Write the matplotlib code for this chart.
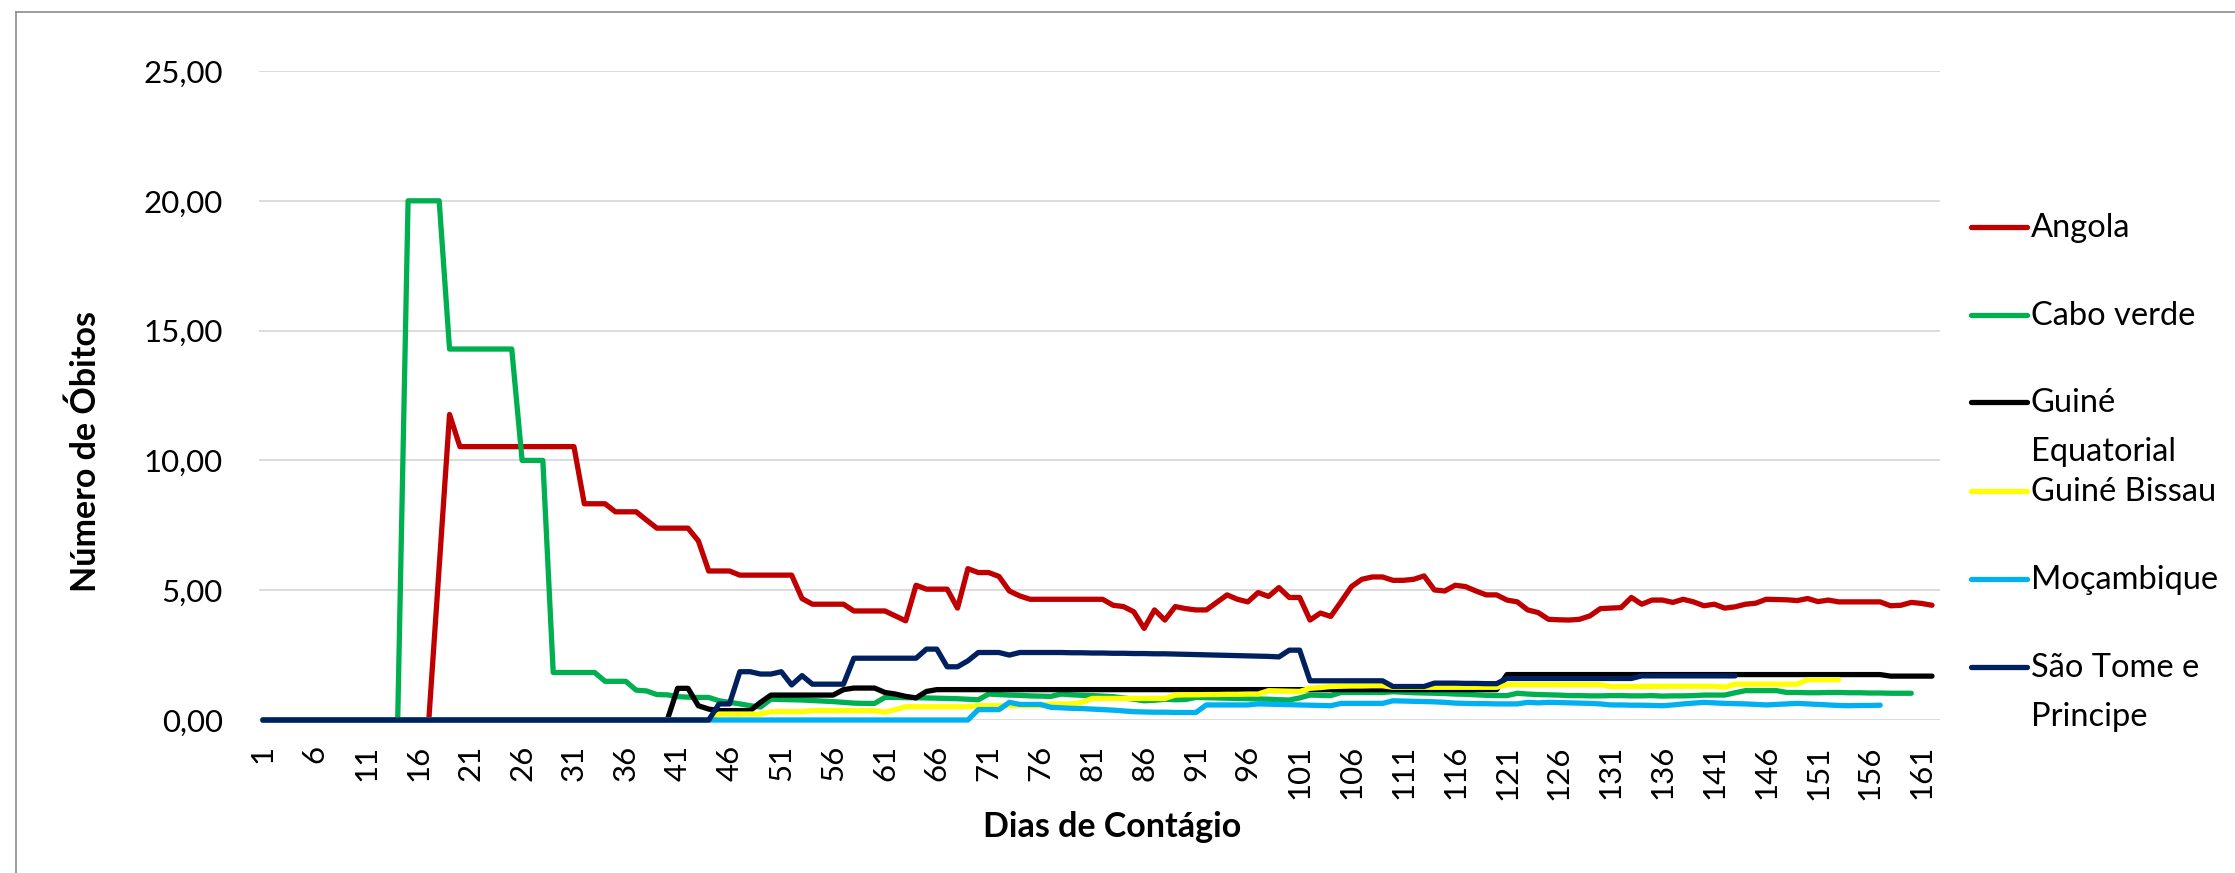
import matplotlib
matplotlib.use("Agg")
import matplotlib.pyplot as plt
from matplotlib.lines import Line2D

plt.rcParams['font.family'] = ['Lato', 'DejaVu Sans']

# ---------------- data ----------------
days = list(range(1, 163))
tick_days = list(range(1, 162, 5))
y_ticks = [0, 5, 10, 15, 20, 25]
y_tick_labels = ['0,00', '5,00', '10,00', '15,00', '20,00', '25,00']

series_names = ['Angola', 'Cabo verde', 'Guiné\nEquatorial', 'Guiné Bissau',
                'Moçambique', 'São Tome e\nPrincipe']
series_colors = ['#C00000', '#00B050', '#000000', '#FFFF00', '#00B0F0', '#002060']

angola = ([0]*17 + [5.9, 11.77] + [10.53]*12 + [8.33]*3 + [8.02]*3 + [7.7] + [7.39]*4
          + [6.9] + [5.74]*3 + [5.58]*6 + [4.68] + [4.46]*4 + [4.2]*4 + [4.01, 3.82, 5.19]
          + [5.04]*3 + [4.31, 5.83, 5.68, 5.68, 5.53, 4.97, 4.78] + [4.65]*8
          + [4.42, 4.37, 4.17, 3.53, 4.24, 3.85, 4.37, 4.29, 4.24, 4.24, 4.53, 4.82, 4.65,
             4.55, 4.91, 4.76, 5.10, 4.72, 4.72, 3.85, 4.12, 3.99, 4.56, 5.14, 5.42, 5.51,
             5.51, 5.38, 5.38, 5.42, 5.55, 5.01, 4.97, 5.19, 5.14, 4.97, 4.82, 4.82, 4.62,
             4.55, 4.24, 4.14, 3.88, 3.86, 3.85, 3.88, 4.01, 4.29, 4.31, 4.33, 4.72, 4.46,
             4.62, 4.62, 4.53, 4.65, 4.55, 4.40, 4.46, 4.31, 4.36, 4.46, 4.50, 4.65, 4.64,
             4.63, 4.60, 4.68, 4.56, 4.62, 4.55, 4.55, 4.55, 4.55, 4.55, 4.40, 4.42, 4.53,
             4.49, 4.42])

cabo_verde = ([0]*14 + [20]*4 + [14.29]*7 + [10]*3 + [1.83]*5 + [1.49]*3
              + [1.15, 1.12, 0.98, 0.97, 0.90, 0.88, 0.87, 0.87, 0.74, 0.68, 0.62, 0.55, 0.50,
                 0.80, 0.79, 0.78, 0.77, 0.75, 0.73, 0.71, 0.68, 0.65, 0.64, 0.64, 0.87, 0.87,
                 0.86, 0.86, 0.85, 0.84, 0.83, 0.82, 0.80, 0.78, 1.00, 0.98, 0.96, 0.95, 0.93,
                 0.92, 0.91, 1.00, 0.97, 0.95, 0.94, 0.92, 0.90, 0.85, 0.80, 0.74, 0.76, 0.80,
                 0.78, 0.79, 0.87, 0.86, 0.85, 0.84, 0.83, 0.82, 0.81, 0.80, 0.78, 0.77, 0.85,
                 0.96, 0.95, 0.94]
              + [1.06]*5
              + [1.09, 1.07, 1.05, 1.04, 1.03, 1.02, 1.00, 0.99, 0.97, 0.95, 0.94, 0.94, 1.03,
                 1.00, 0.98, 0.97, 0.96, 0.94, 0.94, 0.93, 0.93, 0.94, 0.94, 0.93, 0.93, 0.94,
                 0.92, 0.93, 0.93, 0.94, 0.96, 0.96, 0.96, 1.05, 1.13, 1.13, 1.13, 1.13, 1.06,
                 1.06, 1.05, 1.05, 1.06, 1.06, 1.05, 1.05, 1.04, 1.04, 1.03, 1.03, 1.03])

guine_equatorial = ([0]*40 + [1.22]*2 + [0.55, 0.42] + [0.36]*4 + [0.68] + [0.96]*7 + [1.17]
                    + [1.23]*3 + [1.06, 1.00, 0.91, 0.85, 1.10] + [1.17]*55 + [1.75]*37
                    + [1.69]*5)

guine_bissau = ([0]*44 + [0.23]*5 + [0.32]*4 + [0.36]*7 + [0.30, 0.40] + [0.51]*7 + [0.55]*7
                + [0.62]*3 + [0.68] + [0.83]*8
                + [0.96, 0.97, 0.97, 0.98, 0.98, 0.99, 0.99, 1.00, 1.00, 1.13, 1.12, 1.11,
                   1.10, 1.22, 1.25, 1.29, 1.30, 1.31, 1.31, 1.32, 1.32]
                + [1.26]*11 + [1.36]*10 + [1.29]*5 + [1.30]*6 + [1.26] + [1.38]*7 + [1.55]*4)

mocambique = ([0]*69 + [0.40]*3 + [0.68] + [0.60]*3
              + [0.49, 0.47, 0.45, 0.44, 0.42, 0.40, 0.38, 0.35, 0.32, 0.31, 0.30, 0.30, 0.29,
                 0.29, 0.29]
              + [0.58]*5 + [0.62, 0.61, 0.60, 0.59, 0.58, 0.57, 0.56, 0.55] + [0.64]*5
              + [0.74, 0.73, 0.72, 0.71, 0.70, 0.68, 0.65, 0.64, 0.63, 0.63, 0.62, 0.62, 0.62,
                 0.68, 0.66, 0.68, 0.67, 0.66, 0.65, 0.64, 0.62, 0.58, 0.58, 0.57, 0.57, 0.56,
                 0.55, 0.58, 0.62, 0.65, 0.68, 0.66, 0.64, 0.63, 0.62, 0.60, 0.58, 0.60, 0.62,
                 0.64, 0.62, 0.60, 0.58, 0.56, 0.55, 0.56, 0.56, 0.57])

sao_tome = ([0]*44 + [0.62]*2 + [1.86]*2 + [1.77]*2 + [1.86, 1.35, 1.71] + [1.38]*4
            + [2.38]*7 + [2.73]*2 + [2.05]*2 + [2.28] + [2.60]*3 + [2.50]
            + [2.60, 2.60, 2.60, 2.60, 2.60, 2.59, 2.59, 2.58, 2.58, 2.57, 2.57, 2.56, 2.56,
               2.55, 2.55, 2.54, 2.53, 2.52, 2.51, 2.50, 2.49, 2.48, 2.47, 2.46, 2.45, 2.43]
            + [2.69]*2 + [1.51]*8 + [1.29]*4 + [1.42, 1.42, 1.42, 1.41, 1.41, 1.40, 1.40]
            + [1.60]*13 + [1.70]*10)

all_series = [angola, cabo_verde, guine_equatorial, guine_bissau, mocambique, sao_tome]

# ---------------- figure ----------------
W, H = 2235, 873
fig = plt.figure(figsize=(W / 100, H / 100), dpi=100)
fig.patch.set_facecolor('white')

ax_l, ax_r, ax_t, ax_b = 259, 1940, 71, 720
ax = fig.add_axes([ax_l / W, 1 - ax_b / H, (ax_r - ax_l) / W, (ax_b - ax_t) / H])

for name, col, vals in zip(series_names, series_colors, all_series):
    ax.plot(days[:len(vals)], vals, color=col, lw=3.8, solid_joinstyle='round',
            solid_capstyle='round', clip_on=False, zorder=3)

ax.set_xlim(0.62, 162.77)
ax.set_ylim(0, 25)
ax.set_yticks(y_ticks)
ax.set_yticklabels(y_tick_labels)
ax.set_xticks(tick_days)
ax.set_xticklabels([str(d) for d in tick_days], rotation=90, va='top', ha='center')
ax.tick_params(axis='both', length=0, labelsize=22.5, colors='#000000')
ax.tick_params(axis='y', pad=26)
ax.tick_params(axis='x', pad=18)
ax.grid(axis='y', color='#D9D9D9', lw=1.3, zorder=0)
ax.set_axisbelow(True)
for s in ax.spines.values():
    s.set_visible(False)

fig.text(86 / W, 1 - 451 / H, 'Número de Óbitos', rotation=90, ha='center', va='center',
         fontsize=24.5, fontweight='bold')
fig.text(1112 / W, 1 - 827 / H, 'Dias de Contágio', ha='center', va='center',
         fontsize=24.5, fontweight='bold')

# legend (manual, Excel-like layout)
leg_y = [227, 315, 402, 491, 579, 667]
for name, col, yy in zip(series_names, series_colors, leg_y):
    fig.add_artist(Line2D([1971 / W, 2027 / W], [1 - yy / H, 1 - yy / H], color=col, lw=3.8,
                          solid_capstyle='round'))
    fig.text(2031 / W, 1 - (yy - 14) / H, name, ha='left', va='top', fontsize=23.5,
             linespacing=1.78)

# chart border (left and top visible)
border_col = '#8C8C8C'
fig.add_artist(Line2D([16 / W, 16 / W], [1 - 12 / H, 0], color=border_col, lw=1.2))
fig.add_artist(Line2D([16 / W, 1], [1 - 12 / H, 1 - 12 / H], color=border_col, lw=1.2))

fig.savefig('out.png', dpi=100, facecolor='white')
